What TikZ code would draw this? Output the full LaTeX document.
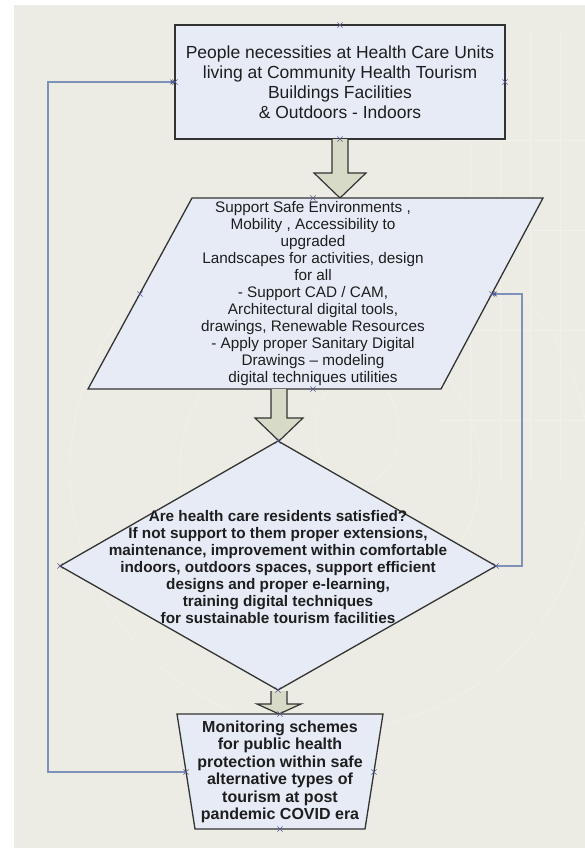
\documentclass[tikz,border=0pt]{standalone}
\usepackage{fontspec}
\setmainfont{Liberation Sans}
\usetikzlibrary{shapes.misc,arrows.meta,calc}
\definecolor{bgc}{HTML}{ECECE4}
\definecolor{fillc}{HTML}{E6EBF6}
\definecolor{arrc}{HTML}{D6DAC6}
\definecolor{edgec}{HTML}{333333}
\definecolor{connc}{HTML}{7D91B9}
\definecolor{tipc}{HTML}{4A5A9A}
\definecolor{markc}{HTML}{5A5A90}
\definecolor{txtc}{HTML}{1E1E1E}
\definecolor{faintc}{HTML}{F1F1EA}
\tikzset{
  shapebox/.style={draw=edgec,fill=fillc,line width=1.3pt,line join=miter},
  blockarrow/.style={draw=edgec,fill=arrc,line width=1.2pt,line join=miter},
  conn/.style={draw=connc,line width=1.4pt,-{Stealth[length=5pt,width=5pt,color=tipc]}},
  conx/.style={cross out,draw=markc,line width=0.6pt,minimum size=4.5pt,inner sep=0pt},
  plain/.style={text=txtc,align=center,inner sep=0pt},
  faint/.style={draw=faintc,line width=0.8pt}
}
\begin{document}
\begin{tikzpicture}[x=1pt,y=-1pt]
\useasboundingbox (0,0) rectangle (585,848);
\fill[white] (0,0) rectangle (585,848);
\fill[bgc] (14,5) rectangle (585,848);
% faint background texture
\draw[faint] (357,430) ellipse (42 and 55);
\draw[faint] (330,470) circle (150);
\draw[faint] (330,470) circle (260);
\foreach \xx in {470,500,530,560} \draw[faint] (\xx,30) -- (\xx,480);
\foreach \yy in {140,230,330,420} \draw[faint] (440,\yy) -- (585,\yy);

% top box
\draw[shapebox] (175,25) rectangle (505,139);
\coordinate (boxL) at (175,82);
\node[plain,font=\fontsize{17.5}{20}\selectfont] (t1) at (340,82)
 {People necessities at Health Care Units\\living at Community Health Tourism\\Buildings Facilities\\\& Outdoors - Indoors};

% arrow 1
\draw[blockarrow] (332,139) -- (332,173) -- (314,173) -- (340,198) -- (366,173) -- (348,173) -- (348,139);

% parallelogram
\draw[shapebox] (192,198) -- (543,198) -- (441,389) -- (88,389) -- cycle;
\coordinate (parR) at (492,294);
\node[plain,font=\fontsize{15.3}{17}\selectfont] (t2) at (313,294)
 {Support Safe Environments ,\\Mobility , Accessibility to\\upgraded\\Landscapes for activities, design\\for all\\- Support CAD / CAM,\\Architectural digital tools,\\drawings, Renewable Resources\\- Apply proper Sanitary Digital\\Drawings – modeling\\digital techniques utilities};

% arrow 2
\draw[blockarrow] (271,389) -- (271,418) -- (255,418) -- (279,441) -- (303,418) -- (287,418) -- (287,389);

% diamond
\draw[shapebox] (278,441) -- (496,566) -- (278,690) -- (60,566) -- cycle;
\coordinate (diaR) at (496,566);
\node[plain,font=\bfseries\fontsize{15.3}{17.1}\selectfont] (t3) at (278,567)
 {Are health care residents satisfied?\\If not support to them proper extensions,\\maintenance, improvement within comfortable\\indoors, outdoors spaces, support efficient\\designs and proper e-learning,\\training digital techniques\\for sustainable tourism facilities};

% arrow 3
\draw[blockarrow] (271,691) -- (271,704) -- (257,704) -- (279,714) -- (301,704) -- (287,704) -- (287,691);

% trapezoid
\draw[shapebox] (177,714) -- (383,714) -- (365,829) -- (195,829) -- cycle;
\coordinate (trapL) at (186,772);
\node[plain,font=\bfseries\fontsize{16}{17.5}\selectfont] (t4) at (280,772)
 {Monitoring schemes\\for public health\\protection within safe\\alternative types of\\tourism at post\\pandemic COVID era};

% connectors
\draw[conn] (trapL) -- ++(-138,0) |- (boxL);
\draw[conn] (diaR) -- ++(26,0) |- (parR);

% connection point markers
\node[conx] (m1) at (340,25) {};
\node[conx] (m2) at (340,139) {};
\node[conx] (m3) at (175,82) {};
\node[conx] (m4) at (505,82) {};
\node[conx] (m5) at (313,198) {};
\node[conx] (m6) at (313,389) {};
\node[conx] (m7) at (140,294) {};
\node[conx] (m8) at (492,294) {};
\node[conx] (m9) at (278,441) {};
\node[conx] (m10) at (60,566) {};
\node[conx] (m11) at (496,566) {};
\node[conx] (m12) at (278,690) {};
\node[conx] (m13) at (280,714) {};
\node[conx] (m14) at (186,772) {};
\node[conx] (m15) at (374,772) {};
\node[conx] (m16) at (280,829) {};
\end{tikzpicture}
\end{document}
